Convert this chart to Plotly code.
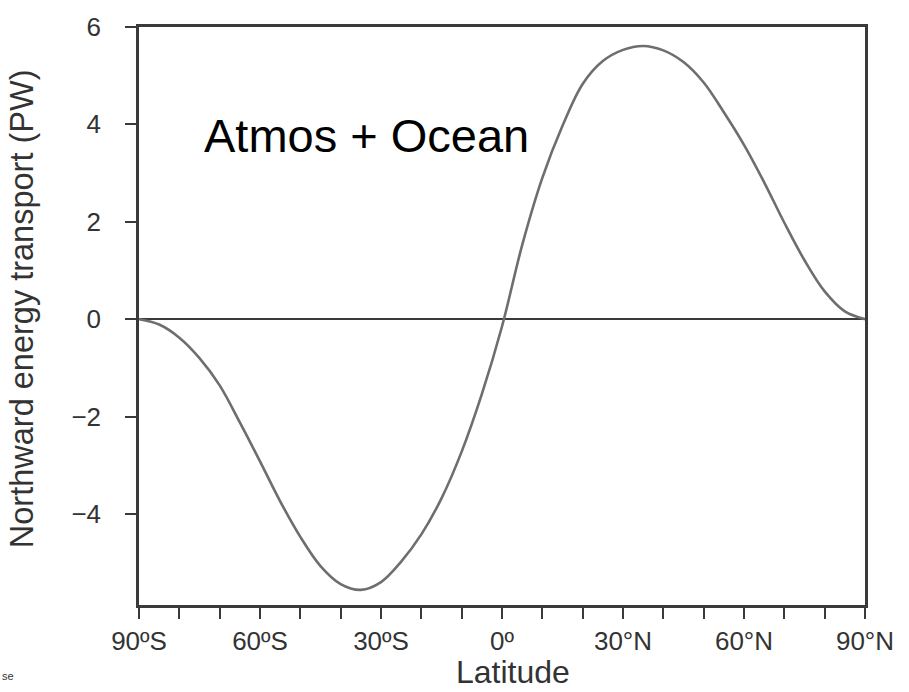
import plotly.graph_objects as go

# Latitude (deg, negative = south) and northward energy transport (PW)
latitude = [-90, -85, -80, -75, -70, -65, -60, -55, -50, -45, -40, -35, -30, -25, -20,
            -15, -10, -5, 0, 5, 10, 15, 20, 25, 30, 35, 40, 45, 50, 55, 60, 65, 70,
            75, 80, 85, 90]
transport = [0.0, -0.11, -0.38, -0.80, -1.36, -2.12, -2.92, -3.74, -4.47, -5.07, -5.44,
             -5.56, -5.40, -4.98, -4.42, -3.68, -2.72, -1.54, -0.15, 1.52, 2.90, 3.97,
             4.83, 5.30, 5.53, 5.61, 5.52, 5.28, 4.86, 4.25, 3.58, 2.81, 1.98, 1.21,
             0.57, 0.16, 0.0]

x_tickvals = [-90, -80, -70, -60, -50, -40, -30, -20, -10, 0, 10, 20, 30, 40, 50, 60, 70, 80, 90]
x_ticktext = ["90ºS", "", "", "60ºS", "", "", "30ºS", "", "", "0º", "", "",
              "30°N", "", "", "60°N", "", "", "90°N"]
y_tickvals = [-4, -2, 0, 2, 4, 6]
y_ticktext = ["−4", "−2", "0", "2", "4", "6"]

FONT = "Liberation Sans, Arial, Helvetica, sans-serif"
AXIS_COLOR = "#3a3a3a"
TEXT_COLOR = "#333333"

fig = go.Figure()
fig.add_trace(go.Scatter(
    x=latitude, y=transport, mode="lines",
    line=dict(color="#6e6e6e", width=2.6, shape="spline", smoothing=1.0),
    showlegend=False, hoverinfo="skip",
))

fig.update_layout(
    width=909, height=692,
    margin=dict(l=139, r=44, t=19, b=87),
    paper_bgcolor="white", plot_bgcolor="white",
    font=dict(family=FONT, color=TEXT_COLOR),
    xaxis=dict(
        range=[-90, 90], tickmode="array", tickvals=x_tickvals, ticktext=x_ticktext,
        ticks="outside", ticklen=11, tickwidth=2, tickcolor=AXIS_COLOR,
        showline=True, linecolor=AXIS_COLOR, linewidth=2.5, mirror=True,
        showgrid=False, zeroline=False,
        tickfont=dict(size=26, color=TEXT_COLOR),
    ),
    yaxis=dict(
        range=[-5.87, 6], tickmode="array", tickvals=y_tickvals, ticktext=y_ticktext,
        ticks="outside", ticklen=11, tickwidth=2, tickcolor=AXIS_COLOR,
        showline=True, linecolor=AXIS_COLOR, linewidth=2.5, mirror=True,
        showgrid=False, zeroline=True, zerolinecolor=AXIS_COLOR, zerolinewidth=2,
        tickfont=dict(size=26, color=TEXT_COLOR), ticklabelstandoff=19,
    ),
    annotations=[
        dict(text="Atmos + Ocean", x=-74.5, y=3.78, xref="x", yref="y",
             xanchor="left", yanchor="middle", showarrow=False,
             font=dict(size=47, color="black", family=FONT)),
        dict(text="Latitude", x=0.515, y=-0.116, xref="paper", yref="paper",
             xanchor="center", yanchor="middle", showarrow=False,
             font=dict(size=32, color=TEXT_COLOR, family=FONT)),
        dict(text="Northward energy transport (PW)", x=-0.161, y=0.512,
             xref="paper", yref="paper", textangle=-90,
             xanchor="center", yanchor="middle", showarrow=False,
             font=dict(size=32.5, color=TEXT_COLOR, family=FONT)),
        dict(text="se", x=-0.191, y=-0.123, xref="paper", yref="paper",
             xanchor="left", yanchor="middle", showarrow=False,
             font=dict(size=11, color=TEXT_COLOR, family=FONT)),
    ],
)

fig.write_html("out.html")
